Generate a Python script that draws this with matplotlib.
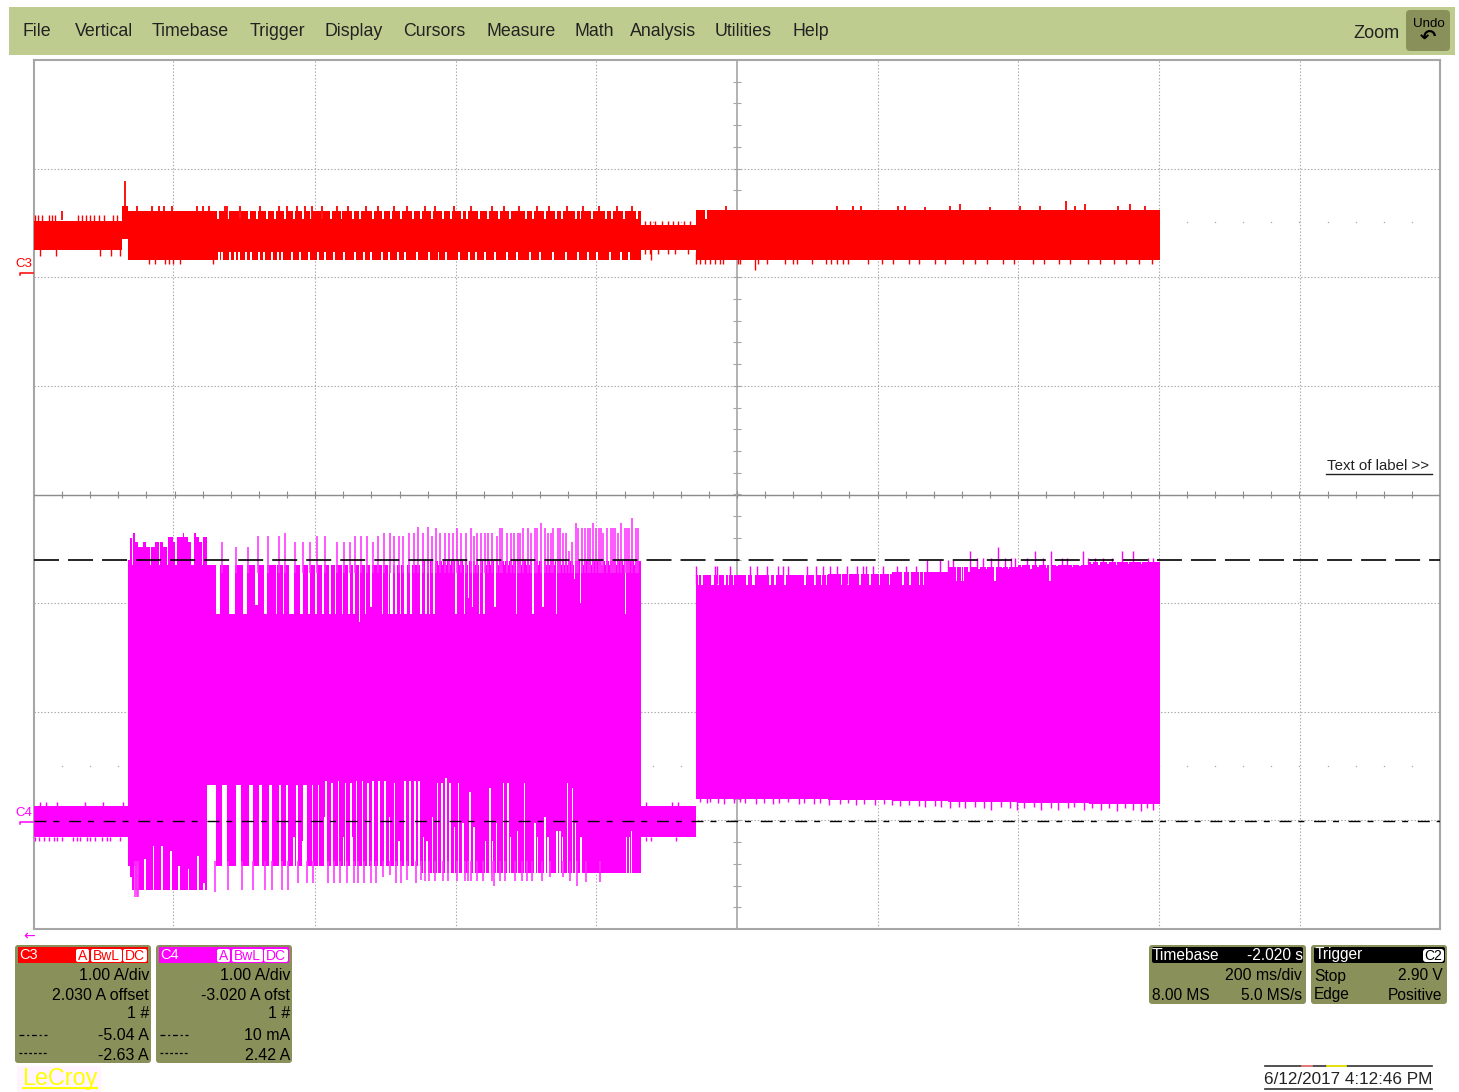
import numpy as np
import matplotlib
matplotlib.use("Agg")
import matplotlib.pyplot as plt
from matplotlib.patches import FancyBboxPatch, Rectangle

# scope settings, as shown in the panels
C3_OFFSET = 2.03
C4_OFFSET = -3.02
CURSOR_HI = 2.42
CURSOR_LO = 0.01

# --- C3 trace (current in A, time in ms) ---
c3_seg_start = [0, 125, 134, 864, 942]
c3_seg_end = [125, 134, 864, 942, 1602]
c3_seg_hi = [0.49, 0.63, 0.58, 0.45, 0.59]
c3_seg_lo = [0.22, 0.32, 0.13, 0.22, 0.13]

c3_up_t = [2, 6, 11, 21, 25, 30, 63, 68, 74, 79, 85, 92, 99, 113, 118,
           869, 876, 883, 893, 902, 909, 916, 924, 933]
c3_up_a = [0.54] * 15 + [0.49] * 9
c3_up2_t = [40, 129, 146, 168, 178, 185, 196, 232, 241, 249, 272, 275, 293, 322, 348,
            360, 374, 386, 396, 410, 431, 447, 472, 489, 512, 530, 556, 571, 598, 622,
            651, 668, 690, 716, 733, 758, 781, 804, 829, 850, 984, 1142, 1165, 1177,
            1229, 1239, 1267, 1303, 1317, 1360, 1403, 1431, 1468, 1481, 1495, 1542,
            1559, 1580]
c3_up2_a = [0.58, 0.86] + [0.63] * 38 + [0.63] * 5 + [0.63, 0.62, 0.63, 0.64, 0.62,
            0.63, 0.63, 0.67, 0.63, 0.64, 0.63, 0.64, 0.63]
c3_down_t = [8, 32, 94, 109, 123, 869, 876, 878, 888, 902, 912, 931]
c3_down_a = [0.17] * 5 + [0.18, 0.18, 0.13, 0.18, 0.18, 0.18, 0.18]
c3_down2_t = [163, 172, 187, 192, 198, 208, 255, 942, 947, 954, 961, 969, 976, 980,
              1002, 1004, 1025, 1030, 1042, 1068, 1080, 1085, 1106, 1127, 1134, 1142,
              1151, 1158, 1187, 1206, 1222, 1244, 1259, 1281, 1296, 1322, 1338, 1356,
              1379, 1394, 1421, 1437, 1458, 1473, 1499, 1517, 1536, 1554, 1572, 1590]
c3_down2_a = [0.09] * 16 + [0.04] + [0.09] * 33

c3_hi_notch_t = [260, 274, 291, 304, 316, 330, 342, 355, 368, 381, 393, 408, 421, 436,
                 452, 463, 481, 495, 507, 521, 538, 549, 565, 580, 592, 607, 615, 631,
                 644, 660, 676, 699, 708, 725, 741, 750, 769, 776, 793, 812, 821, 838,
                 856, 954]
c3_lo_notch_t = [262, 266, 277, 285, 290, 300, 307, 318, 326, 337, 345, 352, 365, 377,
                 390, 403, 412, 426, 440, 455, 468, 478, 493, 503, 516, 527, 544, 560,
                 574, 585, 603, 618, 627, 640, 655, 672, 686, 704, 719, 737, 755, 772,
                 787, 800, 818, 834, 845]

# --- C4 trace ---
c4_ped_start = [0, 864]
c4_ped_end = [134, 942]
c4_ped_hi = 0.15
c4_ped_lo = -0.13
c4_ped_up_t = [8, 17, 33, 72, 98, 127, 871, 907, 916]
c4_ped_dn_t = [2, 7, 14, 21, 28, 33, 40, 56, 61, 66, 75, 80, 87, 97, 104, 108, 123,
               871, 878, 913]

# first burst, top edge before the gaps begin
c4_pre_t = [134, 137, 139, 141, 144, 148, 155, 160, 165, 167, 172, 178, 179, 184, 189,
            191, 198, 201, 204, 212, 214, 219, 224, 228, 230, 234, 239, 241, 246]
c4_pre_a = [2.42, 2.62, 2.37, 2.67, 2.58, 2.54, 2.58, 2.54, 2.37, 2.54, 2.58, 2.37, 2.58,
            2.54, 2.37, 2.63, 2.58, 2.37, 2.63, 2.67, 2.63, 2.58, 2.37, 2.67, 2.63, 2.58,
            2.37, 2.63, 2.37]
c4_block_t = [134, 550, 864]
c4_block_hi = [2.37, 2.41, 2.41]
c4_block_lo = [-0.40, -0.46, -0.46]

c4_wide_start = [259, 278, 298, 314, 327, 344, 354, 363, 378, 390, 400, 409, 419, 428,
                 438, 447, 454, 463, 471, 478, 495, 503, 507, 514, 521, 526, 535, 549, 556]
c4_wide_end = [265, 286, 303, 318, 332, 346, 356, 370, 382, 392, 402, 413, 422, 430,
               440, 449, 457, 464, 472, 481, 497, 505, 510, 516, 522, 530, 538, 551, 559]
c4_wide_a = [1.92, 1.92, 1.92, 2.0, 1.92, 1.92, 1.92, 1.92, 1.92, 1.92, 1.92, 1.92, 1.92,
             1.92, 1.92, 1.92, 1.92, 1.85, 1.92, 1.98, 1.92, 1.92, 1.92, 1.92, 1.92,
             1.92, 1.92, 1.92, 1.92]
c4_thin_t = [551, 557, 563, 569, 600, 612, 618, 624, 634, 640, 656, 686, 710, 724, 743,
             769, 777, 841]
c4_thin_a = [1.92, 1.92, 1.92, 1.92, 1.92, 1.92, 2.07, 1.98, 1.92, 1.92, 1.98, 1.92,
             1.92, 1.98, 1.92, 2.24, 2.02, 1.92]
c4_nick_t = [575, 581, 587, 593, 599, 605, 611, 617, 628, 633, 639, 644, 649, 655, 661,
             669, 675, 681, 694, 700, 705, 710, 718, 725, 729, 733, 741, 751, 755, 759,
             768, 782, 793, 808, 813, 818, 829, 838, 854]

c4_top_t = [267, 287, 305, 319, 333, 348, 357, 371, 383, 393, 403, 414, 431, 441, 450,
            457, 465, 474, 482, 490, 498, 506, 512, 519, 525, 533, 540, 546, 554, 560,
            566, 572, 578, 585, 590, 596, 602, 608, 614, 621, 626, 630, 636, 642, 646,
            652, 658, 663, 666, 673, 678, 683, 689, 692, 696, 703, 707, 713, 716, 721,
            727, 731, 735, 738, 745, 748, 753, 757, 761, 765, 771, 774, 779, 784, 788,
            791, 795, 799, 803, 806, 810, 815, 821, 824, 827, 831, 835, 840, 843, 846,
            851, 856, 859]
c4_top_a = [2.58, 2.54, 2.54, 2.64, 2.64, 2.64, 2.67, 2.58, 2.58, 2.58, 2.64, 2.64, 2.58,
            2.58, 2.58, 2.64, 2.64, 2.64, 2.58, 2.64, 2.67, 2.67, 2.64, 2.64, 2.64, 2.67,
            2.67, 2.72, 2.67, 2.72, 2.64, 2.71, 2.67, 2.67, 2.67, 2.67, 2.71, 2.67, 2.67,
            2.71, 2.64, 2.67, 2.67, 2.67, 2.67, 2.67, 2.64, 2.71, 2.71, 2.67, 2.67, 2.67,
            2.67, 2.67, 2.71, 2.71, 2.67, 2.71, 2.71, 2.76, 2.71, 2.67, 2.67, 2.71, 2.71,
            2.71, 2.67, 2.67, 2.50, 2.58, 2.76, 2.71, 2.71, 2.71, 2.71, 2.71, 2.76, 2.71,
            2.71, 2.71, 2.67, 2.71, 2.71, 2.71, 2.71, 2.67, 2.76, 2.71, 2.71, 2.71, 2.80,
            2.71, 2.71]

# lower edge of the first burst
c4_low_step_t = [134, 137, 140, 246]
c4_low_step_a = [-0.40, -0.50, -0.62, -0.62]
c4_left_gap_t = [143, 147, 158, 170, 182, 195, 206, 220, 233, 242]
c4_left_gap_a = [-0.40, -0.40, -0.34, -0.22, -0.22, -0.26, -0.40, -0.43, -0.31, -0.56]
c4_low_wide_start = [246, 268, 287, 306, 320, 334, 348, 358, 372, 383, 395, 404]
c4_low_wide_end = [259, 275, 295, 312, 324, 338, 352, 362, 375, 388, 397, 406]
c4_low_thin_t = [370, 382, 414, 415, 424, 433, 440, 443, 451, 453, 459, 467, 475, 482,
                 491, 499, 506, 513, 519, 528, 535, 542, 548, 554, 559, 567, 574, 580,
                 586, 592, 598, 604, 610, 620, 626, 642, 649, 652, 658, 668, 674, 678,
                 688, 698, 713, 716, 727, 731, 744, 748, 752, 759, 766, 770, 778, 843,
                 847, 850]
c4_low_thin_a = [-0.13, -0.17, 0.05, 0.38, 0.36, 0.38, -0.13, 0.36, 0.36, -0.13, 0.38,
                 0.38, 0.36, 0.38, 0.38, 0.38, 0.05, 0.36, -0.17, 0.38, 0.38, 0.38, 0.38,
                 -0.13, -0.17, 0.05, 0.36, 0.36, 0.41, 0.36, -0.04, 0.36, 0.0, 0.28, -0.04,
                 -0.17, 0.32, -0.17, 0.0, 0.36, 0.36, -0.13, -0.08, 0.36, 0.0, -0.13, 0.05,
                 -0.13, -0.08, -0.08, -0.13, 0.36, 0.32, 0.0, -0.13, -0.13, -0.13, -0.08]
c4_low_spike_t = [144, 146, 148, 258, 276, 296, 312, 328, 338, 353, 362, 376, 389, 397,
                  418, 427, 435, 445, 455, 461, 469, 479, 487, 496, 507, 515, 522, 530,
                  543, 551, 556, 562, 570, 582, 589, 601, 613, 618, 622, 630, 639, 651,
                  654, 663, 670, 684, 694, 701, 708, 722, 734, 753, 762, 773, 785, 805]
c4_low_spike_a = [-0.69, -0.69, -0.69, -0.64, -0.62, -0.62, -0.62, -0.62, -0.62, -0.62,
                  -0.62, -0.56, -0.56, -0.56, -0.56, -0.56, -0.56, -0.56, -0.56, -0.56,
                  -0.56, -0.56, -0.56, -0.50, -0.48, -0.56, -0.56, -0.53, -0.56, -0.53,
                  -0.54, -0.54, -0.54, -0.54, -0.54, -0.54, -0.54, -0.54, -0.54, -0.54,
                  -0.54, -0.54, -0.58, -0.54, -0.54, -0.54, -0.54, -0.54, -0.54, -0.54,
                  -0.50, -0.50, -0.54, -0.58, -0.55, -0.55]

# second burst
c4_seg2_t = [942, 1130, 1220, 1300, 1400, 1500, 1602]
c4_seg2_hi = [2.28, 2.29, 2.31, 2.35, 2.37, 2.40, 2.40]
c4_seg2_lo = [0.22, 0.21, 0.20, 0.19, 0.18, 0.17, 0.17]
c4_seg2_nick_t = [945, 950, 964, 966, 973, 983, 988, 995, 1014, 1023, 1025, 1047, 1054,
                  1068, 1097, 1111, 1120, 1127, 1149, 1158, 1175, 1189, 1203, 1217, 1236,
                  1246, 1260, 1265, 1312, 1319, 1322, 1330, 1344, 1355, 1367, 1378, 1386,
                  1405, 1418, 1428, 1440, 1445, 1455, 1477, 1488, 1505, 1515, 1528, 1540,
                  1557, 1575]
c4_seg2_nick_a = [2.19] * 28 + [2.22, 2.22, 2.22, 2.31, 2.33, 2.33, 2.22, 2.34, 2.33,
                  2.35, 2.33, 2.35, 2.34, 2.22, 2.36, 2.35, 2.36, 2.38, 2.37, 2.38, 2.37,
                  2.38, 2.38]
c4_seg2_up_t = [942, 969, 971, 990, 1018, 1028, 1042, 1059, 1066, 1073, 1099, 1113, 1123,
                1132, 1142, 1156, 1170, 1179, 1184, 1194, 1208, 1227, 1241, 1255, 1270,
                1289, 1300, 1307, 1331, 1341, 1350, 1362, 1371, 1381, 1390, 1395, 1412,
                1424, 1435, 1447, 1462, 1469, 1492, 1499, 1509, 1521, 1533, 1547, 1563,
                1585, 1592]
c4_seg2_up_a = [2.36] * 24 + [2.42] * 4 + [2.50, 2.44, 2.44, 2.44, 2.54, 2.44, 2.44, 2.44,
                2.44, 2.50, 2.44, 2.50, 2.44, 2.44, 2.50, 2.44, 2.44, 2.44, 2.44, 2.50,
                2.50, 2.44, 2.44]
c4_seg2_dn_t = [948, 958, 961, 973, 982, 996, 1004, 1012, 1027, 1039, 1051, 1060, 1073,
                1088, 1096, 1110, 1118, 1131, 1147, 1158, 1169, 1180, 1196, 1209, 1221,
                1232, 1245, 1259, 1268, 1281, 1290, 1303, 1316, 1325, 1339, 1352, 1361,
                1375, 1388, 1399, 1408, 1422, 1433, 1446, 1457, 1471, 1480, 1494, 1505,
                1518, 1529, 1540, 1552, 1563, 1574, 1583, 1592]
c4_seg2_dn_a = [0.19, 0.18, 0.19, 0.18, 0.17, 0.18, 0.19, 0.18, 0.17, 0.18, 0.17, 0.18,
                0.19, 0.17, 0.18, 0.17, 0.18, 0.16, 0.17, 0.18, 0.16, 0.17, 0.16, 0.17,
                0.16, 0.15, 0.16, 0.15, 0.14, 0.15, 0.14, 0.13, 0.14, 0.13, 0.14, 0.13,
                0.12, 0.14, 0.13, 0.12, 0.13, 0.14, 0.12, 0.13, 0.12, 0.13, 0.14, 0.12,
                0.13, 0.12, 0.13, 0.11, 0.13, 0.12, 0.11, 0.13, 0.12]

# --- text on the instrument screen ---
menu_items = ["File", "Vertical", "Timebase", "Trigger", "Display", "Cursors",
              "Measure", "Math", "Analysis", "Utilities", "Help"]
c3_rows = ["1.00 A/div", "2.030 A offset", "1 #", "-5.04 A", "-2.63 A"]
c4_rows = ["1.00 A/div", "-3.020 A ofst", "1 #", "10 mA", "2.42 A"]
grid_t = [198, 400, 600, 800, 1201, 1400, 1600, 1801]

plt.rcParams["font.family"] = ["Liberation Sans", "DejaVu Sans"]
plt.rcParams["lines.scale_dashes"] = False

RED = "#ff0000"
MAG = "#ff00ff"
MAG2 = "#ff33ff"
PANEL = "#8a9059"
BAR = "#bfcc8f"
GRID = "#a8a8a8"

W, H = 1459, 1092
fig = plt.figure(figsize=(W / 100, H / 100), dpi=100, facecolor="white")

ax = fig.add_axes([34 / W, (H - 929) / H, 1406 / W, 869 / H])
ax.set_xlim(0, 2000)
ax.set_ylim(-4, 4)
ax.set_xticks(grid_t)
ax.set_yticks(np.arange(-3, 4))
ax.tick_params(length=0, labelbottom=False, labelleft=False)
ax.grid(True, color=GRID, lw=0.8, ls=(0, (1.0, 1.4)), zorder=0)
ax.set_axisbelow(True)
for s in ax.spines.values():
    s.set_color("#a6a6a6")
    s.set_linewidth(1.5)
    s.set_zorder(0.5)

ax.axhline(0, color="#8c8c8c", lw=1.0, zorder=1)
ax.axvline(1000, color="#a6a6a6", lw=1.2, zorder=1)
minor_t = np.arange(40, 2000, 40)
minor_y = np.arange(-3.8, 4, 0.2)
ax.vlines(minor_t, -0.03, 0.03, color="#8c8c8c", lw=0.8, zorder=1)
ax.hlines(minor_y, 995, 1005, color="#a6a6a6", lw=0.8, zorder=1)
# faint reference dots left by the scope at the pedestal levels
ax.plot(minor_t, np.full(minor_t.shape, 0.48 + C3_OFFSET), ls="none", marker="s", ms=0.9, color=GRID, mew=0, zorder=1)
ax.plot(minor_t, np.full(minor_t.shape, 0.52 + C4_OFFSET), ls="none", marker="s", ms=0.9, color=GRID, mew=0, zorder=1)


def spikes(t, base, tip, offset, color, z=3, lw=1.0):
    ax.vlines(t, np.asarray(base) + offset, np.asarray(tip) + offset, color=color, lw=lw, zorder=z)


def white_bars(start, end, top, bottom, offset, z=2.5):
    start = np.asarray(start, dtype=float)
    end = np.asarray(end, dtype=float)
    top = np.asarray(top, dtype=float)
    ax.bar(start, top - bottom, width=end - start, bottom=bottom + offset, align="edge",
           color="white", linewidth=0, zorder=z)


# C3
for t0, t1, hi, lo in zip(c3_seg_start, c3_seg_end, c3_seg_hi, c3_seg_lo):
    ax.fill_between([t0, t1], lo + C3_OFFSET, hi + C3_OFFSET, color=RED, lw=0, zorder=2, clip_on=False)
notch = np.array(c3_hi_notch_t, dtype=float)
white_bars(notch, notch + 2.8, np.full(notch.shape, 0.585), 0.51, C3_OFFSET)
notch = np.array(c3_lo_notch_t, dtype=float)
white_bars(notch, notch + 2.8, np.full(notch.shape, 0.20), 0.125, C3_OFFSET)
spikes(c3_up_t, 0.45, c3_up_a, C3_OFFSET, RED)
spikes(c3_up2_t, 0.50, c3_up2_a, C3_OFFSET, RED, lw=1.3)
spikes(c3_down_t, 0.25, c3_down_a, C3_OFFSET, RED)
spikes(c3_down2_t, 0.20, c3_down2_a, C3_OFFSET, RED)

# C4 pedestals
for t0, t1 in zip(c4_ped_start, c4_ped_end):
    ax.fill_between([t0, t1], c4_ped_lo + C4_OFFSET, c4_ped_hi + C4_OFFSET, color=MAG, lw=0, zorder=2, clip_on=False)
spikes(c4_ped_up_t, c4_ped_hi, 0.19, C4_OFFSET, MAG)
spikes(c4_ped_dn_t, c4_ped_lo, -0.17, C4_OFFSET, MAG)

# C4 first burst
ax.fill_between(c4_block_t, np.array(c4_block_lo) + C4_OFFSET, np.array(c4_block_hi) + C4_OFFSET,
                step="post", color=MAG, lw=0, zorder=2)
ax.fill_between(c4_pre_t, 2.3 + C4_OFFSET, np.array(c4_pre_a) + C4_OFFSET, step="post", color=MAG, lw=0, zorder=2)
ax.fill_between(c4_low_step_t, np.array(c4_low_step_a) + C4_OFFSET, -0.3 + C4_OFFSET, step="post",
                color=MAG, lw=0, zorder=2)

bottoms = np.array(c4_wide_a) + C4_OFFSET
ax.bar(c4_wide_start, 2.45 - np.array(c4_wide_a), width=np.array(c4_wide_end) - np.array(c4_wide_start),
       bottom=bottoms, align="edge", color="white", linewidth=0, zorder=2.5)
ax.bar(c4_thin_t, 2.45 - np.array(c4_thin_a), width=2.0, bottom=np.array(c4_thin_a) + C4_OFFSET,
       color="white", linewidth=0, zorder=2.5)
nick = np.array(c4_nick_t, dtype=float)
ax.bar(nick, 0.06, width=1.5, bottom=2.37 + C4_OFFSET, color="white", linewidth=0, zorder=2.5)
spikes(c4_top_t, 2.30, c4_top_a, C4_OFFSET, MAG2, lw=1.15)

ax.bar(c4_left_gap_t, np.array(c4_left_gap_a) + 0.72, width=2.2, bottom=-0.72 + C4_OFFSET,
       color="white", linewidth=0, zorder=2.5)
low_w = np.array(c4_low_wide_end) - np.array(c4_low_wide_start)
ax.bar(c4_low_wide_start, 0.35 + 0.72, width=low_w, bottom=-0.72 + C4_OFFSET, align="edge",
       color="white", linewidth=0, zorder=2.5)
ax.bar(c4_low_thin_t, np.array(c4_low_thin_a) + 0.72, width=2.2, bottom=-0.72 + C4_OFFSET,
       color="white", linewidth=0, zorder=2.5)
spikes(c4_low_spike_t, -0.35, c4_low_spike_a, C4_OFFSET, MAG2, lw=1.15)

# C4 second burst
ax.fill_between(c4_seg2_t, np.array(c4_seg2_lo) + C4_OFFSET, np.array(c4_seg2_hi) + C4_OFFSET,
                step="post", color=MAG, lw=0, zorder=2)
ax.bar(c4_seg2_nick_t, 2.42 - np.array(c4_seg2_nick_a), width=2.0,
       bottom=np.array(c4_seg2_nick_a) + C4_OFFSET, color="white", linewidth=0, zorder=2.5)
spikes(c4_seg2_up_t, 2.20, c4_seg2_up_a, C4_OFFSET, MAG)
spikes(c4_seg2_dn_t, 0.28, c4_seg2_dn_a, C4_OFFSET, MAG)

# cursors
ax.axhline(CURSOR_HI + C4_OFFSET, color="black", lw=1.2, ls=(0, (18, 6.5)), zorder=4)
ax.axhline(CURSOR_LO + C4_OFFSET, color="black", lw=1.0, ls=(0, (8.6, 5, 4.3, 7)), zorder=4)

# --- everything around the grid, placed in screen pixels ---
ui = fig.add_axes([0, 0, 1, 1], facecolor="none")
ui.set_xlim(0, W)
ui.set_ylim(H, 0)
ui.axis("off")


def box(x0, y0, x1, y1, color, r=3, z=1, ec="none"):
    ui.add_patch(FancyBboxPatch((x0, y0), x1 - x0, y1 - y0, boxstyle=f"round,pad=0,rounding_size={r}",
                                fc=color, ec=ec, lw=0.6, zorder=z))


ui.add_patch(Rectangle((9, 7), 1446, 48, fc=BAR, ec="none", zorder=1))
menu_x = [23, 75, 152, 250, 325, 403, 486, 574, 630, 715, 793]
for x, label in zip(menu_x, menu_items):
    ui.text(x, 32, label, fontsize=12.8, color="#222222", ha="left", va="center", zorder=2)
ui.text(1400, 33, "Zoom", fontsize=13, color="#222222", ha="right", va="center", zorder=2)
box(1406, 10, 1450, 51, PANEL, r=4, z=2)
ui.text(1429, 24, "Undo", fontsize=9.6, color="black", ha="center", va="center", zorder=3)
ui.text(1428, 37, "\u21b6", fontsize=14, family="DejaVu Sans", fontweight="bold", color="black",
        ha="center", va="center", zorder=3)

ui.text(1378, 466, "Text of label >>", fontsize=10.8, color="#222222", ha="center", va="center")
ui.plot([1326, 1432], [474, 474], color="#222222", lw=1.0)

ui.text(15, 264, "C3", fontsize=9.5, color=RED, ha="left", va="center")
ui.plot([20, 20, 33], [275, 273, 273], color=RED, lw=1.1)
ui.text(15, 813, "C4", fontsize=9.5, color=MAG, ha="left", va="center")
ui.plot([20, 20, 33], [824, 822, 822], color=MAG, lw=1.1)
ui.text(29, 936, "\u2190", fontsize=10, family="DejaVu Sans", color=MAG, ha="center", va="center")

ROWS_Y = [976, 995, 1014, 1036, 1055]


def channel_panel(dx, name, color, rows):
    box(15 + dx, 945, 151 + dx, 1063, PANEL)
    ui.add_patch(Rectangle((18 + dx, 947), 130, 16, fc=color, ec="none", zorder=2))
    ui.text(19 + dx, 955, name, fontsize=10.5, color="white", ha="left", va="center", zorder=3)
    for x0, x1, tag in [(76, 89, "A"), (91, 122, "BwL"), (123, 147, "DC")]:
        box(x0 + dx, 949, x1 + dx, 962, "white", r=2, z=3)
        ui.text((x0 + x1) / 2 + dx, 955.5, tag, fontsize=10, color=color, ha="center", va="center", zorder=4)
    for y, row in zip(ROWS_Y, rows):
        ui.text(149 + dx, y, row, fontsize=11.5, color="black", ha="right", va="center", zorder=3)
    ui.plot([19 + dx, 47 + dx], [1035, 1035], color="black", lw=0.9, ls=(0, (3.5, 2, 1.5, 2)), zorder=3)
    ui.plot([19 + dx, 48 + dx], [1053, 1053], color="black", lw=0.9, ls=(0, (2, 1.5)), zorder=3)


channel_panel(0, "C3", RED, c3_rows)
channel_panel(141, "C4", MAG, c4_rows)

box(1149, 945, 1306, 1004, PANEL)
box(1152, 947, 1303, 963, "black", r=2, z=2)
ui.text(1152, 955, "Timebase", fontsize=11.2, color="white", ha="left", va="center", zorder=3)
ui.text(1303, 955, "-2.020 s", fontsize=11.2, color="white", ha="right", va="center", zorder=3)
ui.text(1302, 976, "200 ms/div", fontsize=11.4, color="black", ha="right", va="center", zorder=3)
ui.text(1152, 995, "8.00 MS", fontsize=11.2, color="black", ha="left", va="center", zorder=3)
ui.text(1302, 995, "5.0 MS/s", fontsize=11.2, color="black", ha="right", va="center", zorder=3)

box(1311, 945, 1447, 1004, PANEL)
box(1314, 947, 1445, 963, "black", r=2, z=2)
ui.text(1315, 955, "Trigger", fontsize=11.2, color="white", ha="left", va="center", zorder=3)
box(1423, 949, 1444, 962, "white", r=3, z=3)
ui.text(1433.5, 955.5, "C2", fontsize=10, color="black", ha="center", va="center", zorder=4)
ui.text(1314, 976, "Stop", fontsize=11.2, color="black", ha="left", va="center", zorder=3)
ui.text(1443, 976, "2.90 V", fontsize=11.2, color="black", ha="right", va="center", zorder=3)
ui.text(1314, 995, "Edge", fontsize=11.2, color="black", ha="left", va="center", zorder=3)
ui.text(1442, 995, "Positive", fontsize=11.2, color="black", ha="right", va="center", zorder=3)

ui.add_patch(Rectangle((17, 1066), 84, 26, fc="#fff4ff", ec="none", zorder=1))
ui.text(22, 1079, "LeCroy", fontsize=16.8, color="#ffff00", ha="left", va="center", zorder=2)
ui.plot([23, 97], [1088, 1088], color="#ffff00", lw=1.5, zorder=2)

ui.text(1348, 1080, "6/12/2017 4:12:46 PM", fontsize=12.3, color="#222222", ha="center", va="center")
ui.plot([1265, 1432], [1066, 1066], color="#333333", lw=1.2)
ui.plot([1302, 1312], [1066, 1066], color="#ff8080", lw=1.2)
ui.plot([1327, 1346], [1066, 1066], color="#ffff00", lw=1.2)
ui.plot([1265, 1432], [1089, 1089], color="#333333", lw=1.2)

fig.savefig("out.png", dpi=100, facecolor="white")
